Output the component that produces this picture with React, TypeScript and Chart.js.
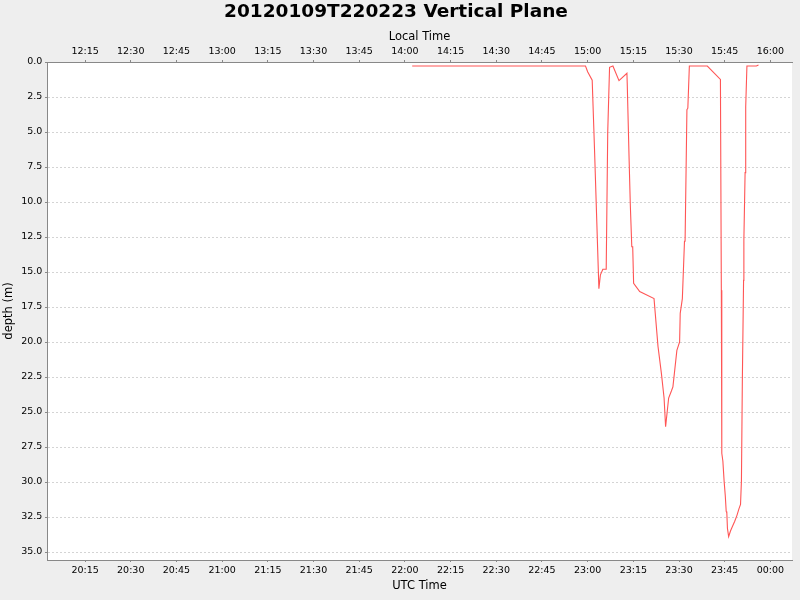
import { useEffect, useRef } from "react";
import { Chart, registerables, ChartConfiguration, Plugin } from "chart.js";

Chart.register(...registerables);

// minutes after 20:00 UTC
const utcMinutes = [
  122.4, 179.3, 180.0, 181.5, 182.3, 183.7, 184.2, 185.0, 186.1, 186.6,
  187.2, 188.3, 190.3, 192.9, 193.0, 193.6, 194.0, 194.5, 194.8, 195.1,
  197.1, 201.8, 203.1, 204.2, 205.1, 205.6, 206.6, 207.5, 208.0, 209.3,
  210.2, 210.4, 211.1, 211.8, 212.0, 212.6, 212.9, 213.4, 219.3, 223.6,
  223.9, 224.0, 224.1, 224.4, 224.8, 225.2, 225.5, 225.7, 225.9, 226.3,
  226.9, 227.5, 228.3, 229.0, 229.7, 230.2, 230.5, 230.8, 231.2, 231.3,
  231.7, 231.9, 232.3, 235.4, 236.1,
];

// depth in metres
const depths = [
  0.29, 0.29, 0.69, 1.3, 6.5, 16.2, 15.2, 14.8, 14.8, 5.0,
  0.38, 0.29, 1.33, 0.81, 1.5, 6.8, 10.1, 13.2, 13.2, 15.8,
  16.4, 16.9, 20.3, 22.2, 24.0, 26.05, 24.0, 23.5, 23.2, 20.6,
  20.0, 17.95, 16.9, 12.8, 12.8, 3.4, 3.3, 0.29, 0.29, 1.24,
  16.3, 18.4, 27.95, 28.5, 29.9, 31.0, 32.1, 32.2, 33.3, 33.9,
  33.5, 33.2, 32.8, 32.4, 31.9, 31.6, 29.9, 22.7, 15.6, 12.7,
  7.9, 3.2, 0.29, 0.29, 0.21,
];

// tick positions, minutes after 20:00 UTC
const timeTicks = [15, 30, 45, 60, 75, 90, 105, 120, 135, 150, 165, 180, 195, 210, 225, 240];
const depthTicks = [0, 2.5, 5, 7.5, 10, 12.5, 15, 17.5, 20, 22.5, 25, 27.5, 30, 32.5, 35];

const X_MIN = 2.5;
const X_MAX = 247.1;
const Y_MAX = 35.57;
const LOCAL_OFFSET_HOURS = -8;

const LINE_COLOR = "#FF5555";
const AXIS_COLOR = "#888888";
const GRID_COLOR = "#d4d4d4";
const FONT = "'DejaVu Sans', sans-serif";

const fmtTime = (mins: number, offsetHours: number) => {
  const total = (((20 + offsetHours) * 60 + Math.round(mins)) % 1440 + 1440) % 1440;
  const h = Math.floor(total / 60);
  const m = total % 60;
  return `${String(h).padStart(2, "0")}:${String(m).padStart(2, "0")}`;
};

const whitePlot: Plugin = {
  id: "whitePlot",
  beforeDraw: (chart) => {
    const { ctx, chartArea } = chart;
    ctx.save();
    ctx.fillStyle = "#ffffff";
    ctx.fillRect(chartArea.left, chartArea.top, chartArea.width, chartArea.height);
    ctx.restore();
  },
};

const App = () => {
  const canvasRef = useRef<HTMLCanvasElement>(null);
  const chartRef = useRef<Chart | null>(null);

  useEffect(() => {
    if (!canvasRef.current) return;
    if (chartRef.current) chartRef.current.destroy();

    const points = utcMinutes.map((m, i) => ({ x: m, y: depths[i] }));

    const config: ChartConfiguration<"line"> = {
      type: "line",
      data: {
        datasets: [
          {
            label: "depth",
            data: points,
            xAxisID: "x",
            yAxisID: "y",
            borderColor: LINE_COLOR,
            borderWidth: 1.1,
            pointRadius: 0,
            tension: 0,
            fill: false,
          },
        ],
      },
      options: {
        responsive: false,
        animation: false,
        devicePixelRatio: 1,
        layout: { padding: { left: 0, right: 8, top: 0, bottom: 0 } },
        plugins: {
          legend: { display: false },
          tooltip: { enabled: false },
          title: {
            display: true,
            text: "20120109T220223 Vertical Plane",
            color: "#000",
            font: { family: FONT, size: 18.5, weight: "bold", lineHeight: 1.2 },
            padding: { top: 1, bottom: 0 },
          },
        },
        scales: {
          x: {
            type: "linear",
            position: "bottom",
            min: X_MIN,
            max: X_MAX,
            afterFit: (scale) => {
              scale.height = 40;
            },
            afterBuildTicks: (scale) => {
              scale.ticks = timeTicks.map((v) => ({ value: v }));
            },
            ticks: {
              color: "#000",
              font: { family: FONT, size: 9.5 },
              padding: 3,
              maxRotation: 0,
              autoSkip: false,
              callback: (v) => fmtTime(Number(v), 0),
            },
            grid: {
              drawOnChartArea: false,
              tickLength: 2,
              tickColor: AXIS_COLOR,
            },
            border: { color: AXIS_COLOR, width: 1 },
            title: {
              display: true,
              text: "UTC Time",
              color: "#000",
              font: { family: FONT, size: 11.5, lineHeight: 1.2 },
              padding: { top: 0, bottom: 7.4 },
            },
          },
          x2: {
            type: "linear",
            position: "top",
            min: X_MIN,
            max: X_MAX,
            afterFit: (scale) => {
              scale.height = 38.8;
            },
            afterBuildTicks: (scale) => {
              scale.ticks = timeTicks.map((v) => ({ value: v }));
            },
            ticks: {
              color: "#000",
              font: { family: FONT, size: 9.5 },
              padding: 2.6,
              maxRotation: 0,
              autoSkip: false,
              callback: (v) => fmtTime(Number(v), LOCAL_OFFSET_HOURS),
            },
            grid: {
              drawOnChartArea: false,
              tickLength: 2,
              tickColor: AXIS_COLOR,
            },
            border: { color: AXIS_COLOR, width: 1 },
            title: {
              display: true,
              text: "Local Time",
              color: "#000",
              font: { family: FONT, size: 11.5, lineHeight: 1.2 },
              padding: { top: 6.5, bottom: 0 },
            },
          },
          y: {
            type: "linear",
            reverse: true,
            min: 0,
            max: Y_MAX,
            afterFit: (scale) => {
              scale.width = 47;
            },
            afterBuildTicks: (scale) => {
              scale.ticks = depthTicks.map((v) => ({ value: v }));
            },
            ticks: {
              color: "#000",
              font: { family: FONT, size: 9.5 },
              padding: 2.7,
              callback: (v) => Number(v).toFixed(1),
            },
            grid: {
              color: GRID_COLOR,
              lineWidth: 1,
              tickLength: 2,
              tickColor: AXIS_COLOR,
              tickBorderDash: [],
            },
            border: { color: AXIS_COLOR, width: 1, dash: [2, 2] },
            title: {
              display: true,
              text: "depth (m)",
              color: "#000",
              font: { family: FONT, size: 11.5, lineHeight: 1.2 },
              padding: { top: 2.1, bottom: 0 },
            },
          },
        },
      },
      plugins: [whitePlot],
    };

    chartRef.current = new Chart(canvasRef.current, config);

    return () => {
      if (chartRef.current) {
        chartRef.current.destroy();
        chartRef.current = null;
      }
    };
  }, []);

  return (
    <div
      style={{
        position: "fixed",
        left: 0,
        top: 0,
        width: 800,
        height: 600,
        background: "#eeeeee",
      }}
    >
      <canvas ref={canvasRef} width={800} height={600} />
    </div>
  );
};

export default App;
